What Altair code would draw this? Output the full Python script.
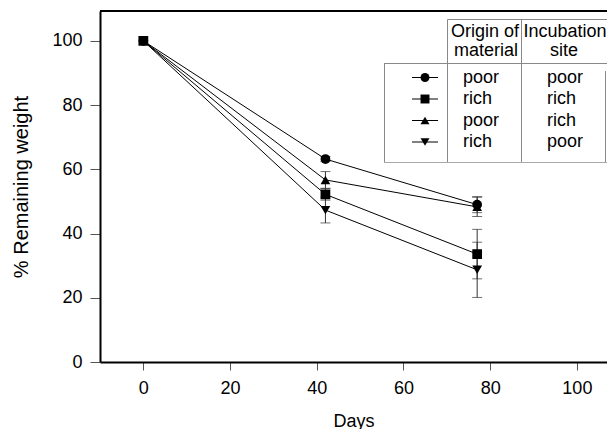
import altair as alt
import pandas as pd

# ---- data ----
days = [0, 42, 77]
series_names = ["poor-poor", "rich-rich", "poor-rich", "rich-poor"]
origin = ["poor", "rich", "poor", "rich"]
incubation = ["poor", "rich", "rich", "poor"]
shapes = ["circle", "square", "triangle-up", "triangle-down"]
values = {
    "poor-poor": [100, 63.2, 49.0],
    "rich-rich": [100, 52.2, 33.6],
    "poor-rich": [100, 56.7, 48.3],
    "rich-poor": [100, 47.3, 28.7],
}
errors = {
    "poor-poor": [0, 0.8, 2.5],
    "rich-rich": [0, 1.8, 7.7],
    "poor-rich": [0, 2.6, 3.0],
    "rich-poor": [0, 4.0, 8.6],
}
x_ticks = [0, 20, 40, 60, 80, 100]
y_ticks = [0, 20, 40, 60, 80, 100]

rows = []
for s, shp in zip(series_names, shapes):
    for d, v, e in zip(days, values[s], errors[s]):
        rows.append({"day": d, "value": v, "err": e, "lo": v - e, "hi": v + e,
                     "series": s, "shape": shp})
df = pd.DataFrame(rows)
df_err = df[df["err"] > 0]

FONT = "Liberation Sans"
W, H = 507, 351

xscale = alt.Scale(domain=[-10, 106.95], nice=False, zero=False)
yscale = alt.Scale(domain=[0, 109.3], nice=False, zero=False)

xax = alt.Axis(values=x_ticks, title="Days", grid=False, tickSize=8, tickColor="#555",
               domainColor="black", domainWidth=2, labelFontSize=18, labelFont=FONT,
               labelPadding=9, titleFontSize=18, titleFont=FONT, titleFontWeight="normal",
               titlePadding=15, labelColor="black", titleColor="black")
yax = alt.Axis(values=y_ticks, title="% Remaining weight", grid=False, tickSize=10,
               tickColor="#555", domainColor="black", domainWidth=2, labelFontSize=18,
               labelFont=FONT, labelPadding=8, titleFontSize=20, titleFont=FONT,
               titleFontWeight="normal", titlePadding=20, labelColor="black",
               titleColor="black")

base = alt.Chart(df)

lines = base.mark_line(color="black", strokeWidth=1).encode(
    x=alt.X("day:Q", scale=xscale, axis=xax),
    y=alt.Y("value:Q", scale=yscale, axis=yax),
    detail="series:N",
)

errbars = alt.Chart(df_err).mark_rule(color="#333", strokeWidth=1).encode(
    x="day:Q", y="lo:Q", y2="hi:Q")
caps_lo = alt.Chart(df_err).mark_tick(color="#333", orient="horizontal", size=10,
                                      thickness=1).encode(x="day:Q", y="lo:Q")
caps_hi = alt.Chart(df_err).mark_tick(color="#333", orient="horizontal", size=10,
                                      thickness=1).encode(x="day:Q", y="hi:Q")

points = base.mark_point(filled=True, color="black", opacity=1, size=95).encode(
    x="day:Q", y="value:Q",
    shape=alt.Shape("series:N", scale=alt.Scale(domain=series_names, range=shapes),
                    legend=None),
)

one = pd.DataFrame({"k": [0]})

def hrule(x1, x2, y, color="#888", w=1):
    return alt.Chart(one).mark_rule(color=color, strokeWidth=w).encode(
        x=alt.value(x1), x2=alt.value(x2), y=alt.value(y))

def vrule(x, y1, y2, color="#888", w=1):
    return alt.Chart(one).mark_rule(color=color, strokeWidth=w).encode(
        x=alt.value(x), y=alt.value(y1), y2=alt.value(y2))

def txt(s, x, y, align="left"):
    return alt.Chart(one).mark_text(font=FONT, fontSize=18, align=align,
                                    baseline="alphabetic", color="black").encode(
        x=alt.value(x), y=alt.value(y), text=alt.value(s))

layers = [lines, errbars, caps_lo, caps_hi, points]

# plot frame: top border
layers.append(hrule(0, W, 0, color="black", w=2))

# legend table
layers += [
    hrule(347.5, W, 8.5),
    vrule(347.5, 8.5, 151.5),
    vrule(421.5, 8.5, 151.5),
    hrule(284, W, 52.5),
    vrule(284.5, 52.5, 151.5),
    vrule(505.5, 60, 151.5),
    hrule(284, W, 151.5, color="#aaa"),
    txt("Origin of", 385, 26, "center"),
    txt("material", 386, 45, "center"),
    txt("Incubation", 465, 26, "center"),
    txt("site", 464, 45, "center"),
]
row_sym_y = [66.5, 88, 109.5, 131]
for i in range(4):
    ys = row_sym_y[i]
    layers.append(hrule(312, 338, ys, color="black"))
    layers.append(alt.Chart(one).mark_point(filled=True, color="black", opacity=1,
                                            size=80, shape=shapes[i]).encode(
        x=alt.value(325), y=alt.value(ys)))
    layers.append(txt(origin[i], 363, ys + 5))
    layers.append(txt(incubation[i], 447, ys + 5))

chart = alt.layer(*layers).properties(
    width=W, height=H,
    autosize=alt.AutoSizeParams(type="none"),
    padding={"left": 92, "top": 3, "right": 0, "bottom": 67},
).configure_view(stroke=None)

chart.save("out.html", embed_options={"renderer": "svg", "actions": False})
